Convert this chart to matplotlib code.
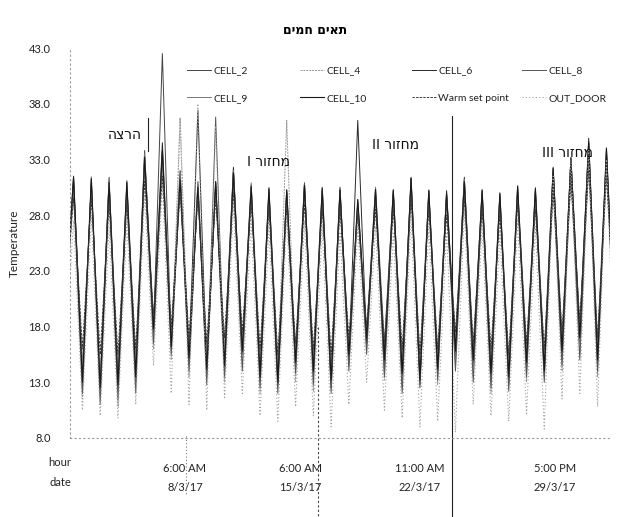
import numpy as np
import matplotlib
matplotlib.use("Agg")
import matplotlib.pyplot as plt
from matplotlib.lines import Line2D

plt.rcParams['font.family'] = ['Lato', 'DejaVu Sans']

# ---------------- data ----------------
# daily peaks (31 days) and troughs (32, between peaks) per series
cell2_hi = [31.2,31.0,31.4,30.8,33.8,42.5,31.5,30.6,30.9,32.0,30.5,30.2,30.0,30.6,30.2,30.3,29.2,30.1,30.0,31.2,30.0,29.8,31.1,30.0,29.7,30.5,30.2,32.0,33.0,34.6,33.8]
cell2_lo = [18.5,12.5,11.8,12.2,13.0,17.5,16.0,14.5,13.5,14.0,15.5,13.0,12.8,14.2,13.5,12.5,15.0,16.5,14.0,13.2,12.5,13.8,15.2,14.5,13.0,12.8,14.0,13.5,15.0,16.5,14.2,15.5]
cell4_hi = [30.5,31.5,30.8,31.1,32.5,33.0,36.7,31.0,30.5,31.5,30.9,30.5,36.5,30.2,30.5,29.8,29.4,30.5,29.6,30.8,30.3,30.0,30.5,29.8,30.0,30.7,30.5,31.5,32.5,33.8,34.1]
cell4_lo = [17.0,11.5,12.0,10.8,12.5,16.0,15.0,13.5,14.5,13.0,14.5,12.0,13.5,13.0,12.2,13.5,14.5,16.0,13.2,12.5,13.8,12.8,14.5,13.5,12.0,13.5,13.0,14.5,14.0,15.5,13.5,14.8]
cell6_hi = [31.5,30.8,31.0,30.5,33.0,34.5,32.0,37.4,31.0,32.3,30.2,30.0,30.3,30.9,29.8,30.5,36.5,29.8,30.3,31.4,29.8,30.2,31.4,30.3,29.5,30.0,30.0,32.3,33.2,34.9,33.5]
cell6_lo = [19.0,13.5,12.8,12.5,14.0,18.0,16.5,15.0,14.0,15.0,16.0,14.0,13.5,15.0,14.5,13.0,15.0,16.5,15.5,14.0,13.5,14.5,16.0,15.0,14.0,13.8,15.0,14.5,16.0,17.5,15.5,16.5]
cell8_hi = [30.8,31.2,30.5,30.2,32.8,33.5,31.0,30.8,36.8,31.5,30.5,29.8,29.8,30.5,30.2,29.5,29.0,30.0,29.8,30.5,30.2,29.5,30.8,29.5,30.0,30.2,29.8,31.0,32.0,33.5,33.0]
cell8_lo = [18.0,12.0,11.0,11.5,12.0,16.5,15.5,14.0,12.8,13.5,14.0,12.5,12.0,13.8,12.8,12.0,14.0,15.5,13.5,12.0,12.8,13.2,14.0,13.0,12.5,12.2,13.5,13.0,14.5,15.0,14.0,15.0]
cell9_hi = [31.0,30.5,31.2,30.9,33.5,33.0,31.8,31.0,30.5,32.0,30.8,30.3,30.1,30.8,30.5,30.0,29.2,30.5,30.1,31.0,30.1,29.8,31.2,30.1,29.8,30.5,30.3,32.1,33.0,34.2,33.9]
cell9_lo = [20.0,14.5,13.5,14.0,15.0,18.5,17.0,16.0,15.5,15.8,16.5,15.0,14.8,15.5,15.0,14.5,16.0,17.5,16.5,15.0,15.0,15.5,17.0,16.0,15.0,14.8,16.0,15.5,17.0,18.0,16.5,17.2]
cell10_hi = [31.4,31.3,30.9,31.0,33.2,33.8,31.2,30.5,31.0,31.8,30.6,30.4,30.2,30.7,30.4,30.2,29.4,30.3,30.2,31.3,30.2,29.9,31.0,30.2,29.9,30.6,30.4,32.2,33.1,34.5,34.0]
cell10_lo = [18.8,13.0,12.5,12.8,13.5,17.8,16.2,15.2,14.2,14.5,15.8,13.5,13.0,14.8,14.0,13.2,15.5,17.0,15.0,13.8,13.2,14.2,15.8,15.0,13.8,13.5,14.8,14.0,15.8,17.0,15.0,16.0]
setp_hi = [29.5,29.5,29.0,29.0,31.0,31.5,30.0,29.5,29.5,30.0,29.0,28.5,28.5,29.0,28.5,28.5,28.0,28.5,28.5,29.5,28.5,28.0,29.5,28.5,28.0,29.0,28.5,30.0,31.0,32.0,31.5]
setp_lo = [20.0,16.0,15.5,15.5,16.0,19.0,18.0,17.0,16.5,17.0,17.5,16.0,15.5,16.5,16.0,15.5,17.0,18.0,16.5,16.0,15.5,16.0,17.5,16.5,16.0,15.5,16.5,16.0,17.5,18.5,17.0,17.5]
out_hi = [27.5,28.0,27.0,27.5,30.0,31.0,36.7,38.0,36.0,29.0,27.5,27.0,28.0,27.5,27.0,26.5,27.0,27.0,26.5,28.0,27.0,26.5,28.5,27.0,26.5,27.5,27.0,31.5,33.0,34.0,33.0]
out_lo = [15.0,10.5,10.0,9.8,11.0,14.5,12.0,11.0,10.5,11.5,12.0,10.0,9.5,10.8,10.0,9.0,11.0,13.0,10.5,9.8,9.0,9.5,8.5,11.0,10.0,9.5,10.2,8.8,11.5,12.0,10.8,12.0]

series_names = ["CELL_2", "CELL_4", "CELL_6", "CELL_8", "CELL_9", "CELL_10",
                "Warm set point", "OUT_DOOR"]
series_hi = [cell2_hi, cell4_hi, cell6_hi, cell8_hi, cell9_hi, cell10_hi, setp_hi, out_hi]
series_lo = [cell2_lo, cell4_lo, cell6_lo, cell8_lo, cell9_lo, cell10_lo, setp_lo, out_lo]

tick_days = [6.27, 12.75, 19.5, 27.1]
tick_labels = ["6:00 AM\n8/3/17", "6:00 AM\n15/3/17", "11:00 AM\n22/3/17", "5:00 PM\n29/3/17"]
yticks = [8, 13, 18, 23, 28, 33, 38, 43]

title_he = "תאים חמים"
phase_labels = ["הרצה", "מחזור I", "מחזור II", "מחזור III"]
phase_pos = [(2.9, 35.2), (10.95, 32.8), (18.1, 34.3), (27.8, 33.6)]

def vis(s):
    # matplotlib has no bidi support: reverse to visual order
    return s[::-1]

# ---------------- styles ----------------
styles = {
    "CELL_2": dict(color="#444444", lw=0.7, ls="-"),
    "CELL_4": dict(color="#999999", lw=0.7, ls=(0, (2, 1))),
    "CELL_6": dict(color="#2a2a2a", lw=0.7, ls="-"),
    "CELL_8": dict(color="#555555", lw=0.7, ls="-"),
    "CELL_9": dict(color="#777777", lw=0.7, ls="-"),
    "CELL_10": dict(color="#1a1a1a", lw=0.8, ls="-"),
    "Warm set point": dict(color="#3a3a3a", lw=0.7, ls=(0, (2.5, 1.2))),
    "OUT_DOOR": dict(color="#a0a0a0", lw=0.8, ls=(0, (1, 2))),
}

fig = plt.figure(figsize=(6.2, 5.17), dpi=100)
ax = fig.add_axes([70/620, 1-438/517, 540/620, 390/517])

peak_t = np.arange(31, dtype=float)
trough_t = np.arange(32, dtype=float) - 0.5

for name, hi, lo in zip(series_names, series_hi, series_lo):
    t = np.empty(63)
    v = np.empty(63)
    t[0::2] = trough_t
    t[1::2] = peak_t
    v[0::2] = lo
    v[1::2] = hi
    ax.plot(t, v, label=name, **styles[name])

ax.set_xlim(-0.2, 30.2)
ax.set_ylim(8, 43)
ax.set_yticks(yticks)
ax.set_yticklabels([f"{y:.1f}" for y in yticks])
ax.set_xticks(tick_days)
ax.set_xticklabels(tick_labels, linespacing=1.9)
ax.tick_params(axis='x', length=0, pad=18, labelsize=8, colors="#222222")
ax.tick_params(axis='y', length=0, pad=14, labelsize=8, colors="#222222")
for s in ["top", "right"]:
    ax.spines[s].set_visible(False)
for s in ["left", "bottom"]:
    ax.spines[s].set_color("#999999")
    ax.spines[s].set_linestyle((0, (1, 3)))
    ax.spines[s].set_linewidth(0.8)

ax.set_ylabel("Temperature", fontsize=8.5, labelpad=6, color="#222222")

fig.text(60/620, 1-462/517, "hour", fontsize=8, ha="center", va="center", color="#222222")
fig.text(60/620, 1-482/517, "date", fontsize=8, ha="center", va="center", color="#222222")

fig.text(315/620, 1-31/517, vis(title_he), fontsize=9, fontweight="bold",
         ha="center", va="center", family=["DejaVu Sans"])

for lab, (px, py) in zip(phase_labels, phase_pos):
    ax.text(px, py, vis(lab), fontsize=10, ha="center", va="center",
            family=["DejaVu Sans"], color="#111111")

# hand-drawn marker lines seen on the scan
marker_lines = [(4.19, 36.7, 33.8, "-", "#222222"),
                (21.3, 36.9, 0.9, "-", "#222222"),
                (13.76, 18.0, 0.9, (0, (2, 2)), "#444444"),
                (6.35, 8.2, 3.0, (0, (1, 2)), "#777777")]
for xv, y0, y1, ls, c in marker_lines:
    ax.plot([xv, xv], [y0, y1], color=c, lw=0.8, ls=ls, clip_on=False)

# legend: four columns of two rows
handles = {n: Line2D([], [], **styles[n]) for n in series_names}
cols = [("CELL_2", "CELL_9"), ("CELL_4", "CELL_10"),
        ("CELL_6", "Warm set point"), ("CELL_8", "OUT_DOOR")]
col_x = [187, 300, 412, 522]
for (a, b), cx in zip(cols, col_x):
    leg = fig.legend([handles[a], handles[b]], [a, b], loc="upper left",
                     bbox_to_anchor=(cx/620, 1-66/517), frameon=False,
                     fontsize=7.5, handlelength=2.3, handletextpad=0.2,
                     borderpad=0, borderaxespad=0, labelspacing=1.75)
    for txt in leg.get_texts():
        txt.set_color("#222222")

fig.savefig("out.png", dpi=100, facecolor="white")
